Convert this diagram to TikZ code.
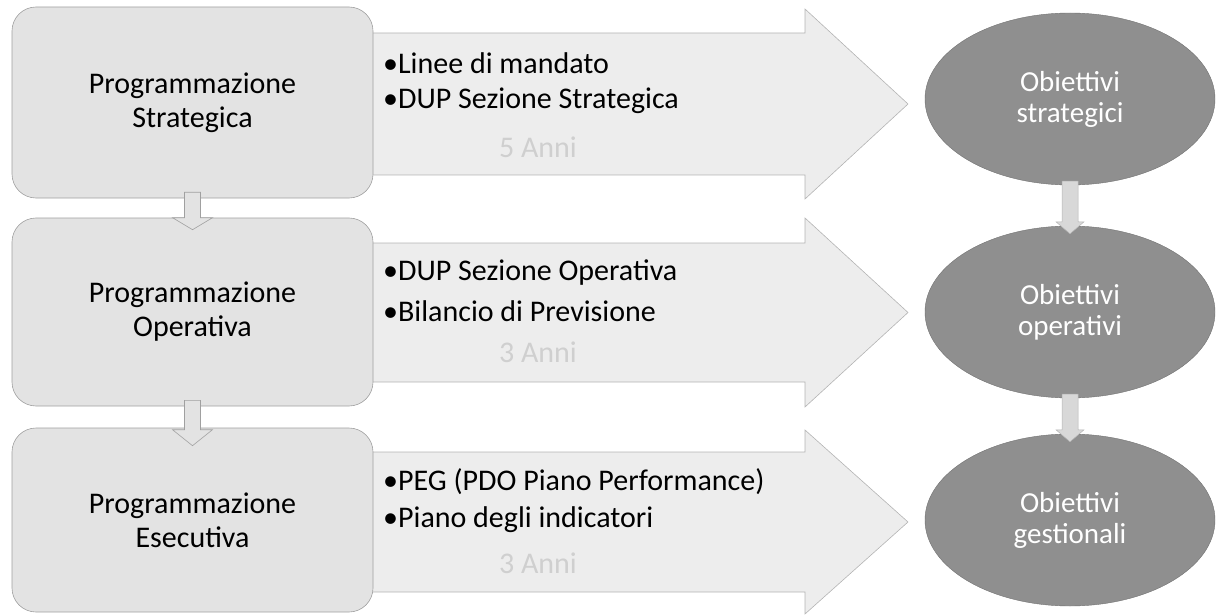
\documentclass[tikz,border=0pt]{standalone}
\usepackage{fontspec}
\setmainfont{Carlito}
\usetikzlibrary{calc,shapes.geometric}
\definecolor{boxfill}{HTML}{E3E3E3}
\definecolor{boxline}{HTML}{A0A0A0}
\definecolor{arrfill}{HTML}{EDEDED}
\definecolor{arrline}{HTML}{B4B4B4}
\definecolor{ellfill}{HTML}{8F8F8F}
\definecolor{annicol}{HTML}{CFCFCF}
\definecolor{linkfill}{HTML}{D8D8D8}
\begin{document}
\begin{tikzpicture}[x=1pt,y=-1pt,
  leftbox/.style={draw=boxline, fill=boxfill, rounded corners=24pt, line width=0.6pt,
    minimum width=361pt, align=center, inner sep=0pt, font=\fontsize{30}{34}\selectfont},
  bigarrow/.style={draw=arrline, fill=arrfill, line width=0.6pt},
  bullet/.style={anchor=west, inner sep=0pt, font=\fontsize{30}{34}\selectfont},
  anni/.style={inner sep=0pt, text=annicol, font=\fontsize{30}{34}\selectfont},
  goal/.style={ellipse, fill=ellfill, draw=ellfill!80!black, line width=0.4pt,
    minimum width=290pt, inner sep=0pt, align=center, text=white,
    font=\fontsize{29}{31}\selectfont},
  downarrow/.style={draw=boxline, fill=boxfill, line width=0.6pt},
  linkarrow/.style={draw=arrline, fill=linkfill, line width=0.5pt}]
\useasboundingbox (0,0) rectangle (1216,615);

% big horizontal arrows
\draw[bigarrow] (360,33) -- (805,33) -- (805,9) -- (908,104) -- (805,199) -- (805,175) -- (360,175) -- cycle;
\draw[bigarrow] (360,243) -- (805,243) -- (805,218) -- (908,312.5) -- (805,407) -- (805,382) -- (360,382) -- cycle;
\draw[bigarrow] (360,452) -- (805,452) -- (805,430) -- (908,522) -- (805,614) -- (805,592) -- (360,592) -- cycle;

% left boxes
\node[leftbox, minimum height=191pt] (b1) at (192.5,102.5) {Programmazione\\Strategica};
\node[leftbox, minimum height=188pt] (b2) at (192.5,312) {Programmazione\\Operativa};
\node[leftbox, minimum height=184pt] (b3) at (192.5,520) {Programmazione\\Esecutiva};

% arrow texts
\node[bullet] (t11) at (383,63) {•Linee di mandato};
\node[bullet] (t12) at (383,101) {•DUP Sezione Strategica};
\node[anni] (a1) at (538,147) {5 Anni};
\node[bullet] (t21) at (383,273) {•DUP Sezione Operativa};
\node[bullet] (t22) at (383,311) {•Bilancio di Previsione};
\node[anni] (a2) at (538,352) {3 Anni};
\node[bullet] (t31) at (383,482) {•PEG (PDO Piano Performance)};
\node[bullet] (t32) at (383,520) {•Piano degli indicatori};
\node[anni] (a3) at (538,563) {3 Anni};

% small down arrows between left boxes
\draw[downarrow] ($(b1.south)+(-8,-6)$) -- ($(b2.north)+(-8,0)$) -- ($(b2.north)+(-20,0)$)
  -- ($(b2.north)+(0,12)$) -- ($(b2.north)+(20,0)$) -- ($(b2.north)+(8,0)$) -- ($(b1.south)+(8,-6)$) -- cycle;
\draw[downarrow] ($(b2.south)+(-8,-6)$) -- ($(b3.north)+(-8,2)$) -- ($(b3.north)+(-20,2)$)
  -- ($(b3.north)+(0,18)$) -- ($(b3.north)+(20,2)$) -- ($(b3.north)+(8,2)$) -- ($(b2.south)+(8,-6)$) -- cycle;

% goal ellipses
\node[goal, minimum height=172pt] (e1) at (1070,99) {Obiettivi\\strategici};
\node[goal, minimum height=172pt] (e2) at (1070,312) {Obiettivi\\operativi};
\node[goal, minimum height=172pt] (e3) at (1070,520) {Obiettivi\\gestionali};

% links between ellipses
\draw[linkarrow] ($(e1.south)+(-8,-4)$) -- ($(e2.north)+(-8,-4)$) -- ($(e2.north)+(-14,-4)$)
  -- ($(e2.north)+(0,8)$) -- ($(e2.north)+(14,-4)$) -- ($(e2.north)+(8,-4)$) -- ($(e1.south)+(8,-4)$) -- cycle;
\draw[linkarrow] ($(e2.south)+(-8,-4)$) -- ($(e3.north)+(-8,-4)$) -- ($(e3.north)+(-14,-4)$)
  -- ($(e3.north)+(0,8)$) -- ($(e3.north)+(14,-4)$) -- ($(e3.north)+(8,-4)$) -- ($(e2.south)+(8,-4)$) -- cycle;
\end{tikzpicture}
\end{document}
